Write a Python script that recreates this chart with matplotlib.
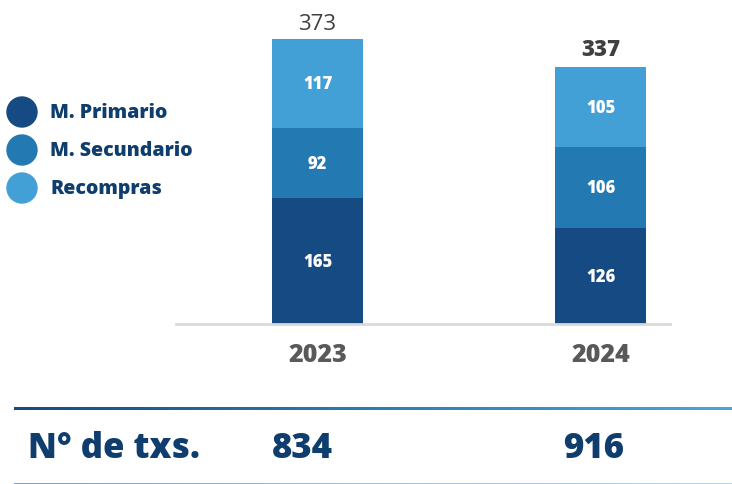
import matplotlib
matplotlib.use("Agg")
import matplotlib.pyplot as plt
import numpy as np
from matplotlib.colors import LinearSegmentedColormap
from matplotlib.patches import Ellipse

years = ["2023", "2024"]
series_names = ["M. Primario", "M. Secundario", "Recompras"]
primario = [165, 126]
secundario = [92, 106]
recompras = [117, 105]
totals = [373, 337]
txs_label = "N° de txs."
txs = ["834", "916"]

colors = ["#154A82", "#2379B1", "#43A0D6"]
W, H = 732, 485
fig = plt.figure(figsize=(W / 100, H / 100), dpi=100)
plt.rcParams['font.family'] = ['Open Sans', 'DejaVu Sans']
HB = 800

def fx(px):
    return px / W

def fy(py):
    return 1 - py / H

# main axes: x 176..670 px, y 2..325 px
ax = fig.add_axes([fx(176), fy(325), fx(670) - fx(176), fy(2) - fy(325)])
ax.set_xlim(-0.5, 1.2455)
ax.set_ylim(0, 424)
ax.axis("off")
x = np.arange(len(years))
bw = 0.3215
bottom = np.zeros(len(years))
for vals, c in zip([primario, secundario, recompras], colors):
    ax.bar(x, vals, bw, bottom=bottom, color=c, edgecolor="none")
    for xi, v, b in zip(x, vals, bottom):
        ax.text(xi, b + v / 2, str(v), ha="center", va="center", color="white",
                fontsize=12, fontweight=HB)
    bottom += np.array(vals)
ax.axhline(0, color="#D9D9D9", lw=2, xmin=0, xmax=1, clip_on=False)
weights = ["normal", HB]
for xi, t, w in zip(x, totals, weights):
    ax.text(xi, t + 8, str(t), ha="center", va="bottom", color="#404040",
            fontsize=16, fontweight=w)
for xi, y in zip(x, years):
    ax.text(xi, -24, y, ha="center", va="top", color="#595959",
            fontsize=18, fontweight=HB)

# legend
for i, (name, c) in enumerate(zip(series_names, colors)):
    cy = 113 + 38 * i
    fig.patches.append(Ellipse((fx(22), fy(cy)), 30 / W, 30 / H, color=c,
                               transform=fig.transFigure, figure=fig))
    fig.text(fx(50), fy(cy), name, ha="left", va="center", color="#0F3E6E",
             fontsize=14, fontweight=HB)

# gradient lines
cmap_top = LinearSegmentedColormap.from_list("g1", ["#174B80", "#2A7DB8", "#49A6DC"])
gax = fig.add_axes([fx(14), fy(411), fx(732) - fx(14), 3 / H])
gax.imshow(np.linspace(0, 1, 256)[None, :], aspect="auto", cmap=cmap_top)
gax.axis("off")
cmap_bot = LinearSegmentedColormap.from_list("g2", ["#7BA3CC", "#98C2E4", "#B0D6F2"])
gax2 = fig.add_axes([fx(14), fy(485), fx(732) - fx(14), 1.5 / H])
gax2.imshow(np.linspace(0, 1, 256)[None, :], aspect="auto", cmap=cmap_bot)
gax2.axis("off")

fig.text(fx(28), fy(449), txs_label, ha="left", va="center", color="#0F3E6E",
         fontsize=25, fontweight=HB)
for px, t in zip([302, 594], txs):
    fig.text(fx(px), fy(449), t, ha="center", va="center", color="#0F3E6E",
             fontsize=25, fontweight=HB)

fig.savefig("out.png", dpi=100, facecolor="white")
